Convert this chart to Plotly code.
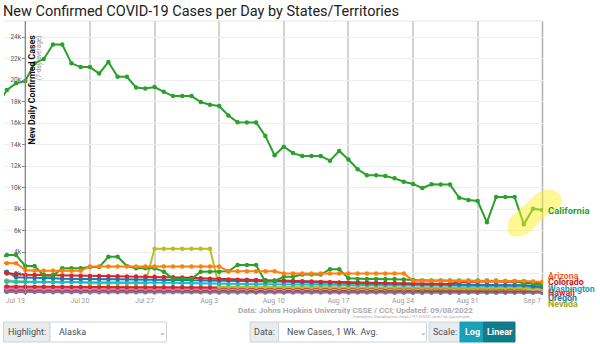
import plotly.graph_objects as go
import pandas as pd

dates = pd.date_range("2022-07-10", "2022-09-07", freq="D")

# values in cases per day (7-day avg) (thousands)
california = [17.6, 19.07, 19.69, 19.9, 21.55, 21.95, 23.3, 23.3, 21.55, 21.2, 21.2, 20.6, 21.67, 20.3, 20.3,
              19.3, 19.2, 19.35, 18.9, 18.5, 18.5, 18.5, 17.95, 17.7, 17.58, 16.7, 16.07, 16.05, 16.05, 14.8,
              13.0, 13.8, 13.2, 12.93, 12.93, 12.93, 12.5, 13.4, 12.6, 11.7, 11.15, 11.15, 11.07, 10.85, 10.54,
              10.33, 9.95, 10.3, 10.27, 10.27, 9.05, 8.84, 8.74, 6.76, 9.12, 9.12, 9.12, 6.57, 8.03, 7.9]
green2 = [3.4, 3.72, 3.72, 2.7, 2.7, 1.8, 1.8, 2.48, 2.48, 2.48, 2.6, 2.6, 3.56, 3.56, 2.7,
          2.5, 2.5, 2.5, 2.17, 1.5, 1.5, 1.5, 2.17, 2.17, 2.17, 2.2, 2.79, 2.79, 2.79, 1.24,
          1.3, 1.7, 1.7, 1.9, 1.9, 1.9, 2.4, 2.4, 1.55, 1.5, 1.5, 1.5, 1.5, 1.5, 1.45,
          1.4, 1.35, 1.35, 1.35, 1.35, 1.35, 1.35, 1.35, 1.35, 1.35, 1.3, 1.3, 1.1, 1.1, 0.93]
arizona = [3.0, 2.95, 2.95, 2.33, 2.26, 2.26, 2.26, 2.26, 2.26, 2.26, 2.66, 2.66, 2.66, 2.66, 2.66,
           2.66, 2.66, 2.66, 2.66, 2.66, 2.66, 2.66, 2.66, 2.66, 2.66, 2.2, 2.2, 2.2, 2.2, 2.2,
           2.2, 2.0, 2.0, 2.0, 2.0, 2.0, 2.0, 2.0, 2.0, 2.0, 2.0, 2.0, 2.0, 2.0, 2.0,
           1.33, 1.33, 1.33, 1.33, 1.33, 1.3, 1.3, 1.3, 1.3, 1.3, 1.3, 1.3, 1.3, 1.25, 1.2]
colorado = [2.1, 2.0, 1.95, 1.88, 1.86, 1.85, 1.83, 1.82, 1.8, 1.79, 1.77, 1.76, 1.75, 1.74, 1.73,
            1.72, 1.71, 1.7, 1.68, 1.66, 1.63, 1.6, 1.56, 1.52, 1.48, 1.45, 1.43, 1.41, 1.39, 1.37,
            1.35, 1.33, 1.3, 1.27, 1.25, 1.22, 1.18, 1.16, 1.15, 1.14, 1.13, 1.12, 1.12, 1.1, 1.1,
            1.08, 1.05, 1.03, 1.02, 1.02, 1.2, 1.24, 1.25, 1.25, 1.25, 1.25, 1.25, 1.25, 1.22, 1.1]
oregon = [2.3, 2.17, 1.64, 1.6, 1.58, 1.55, 1.55, 1.52, 1.5, 1.5, 1.48, 1.48, 1.47, 1.47, 1.46,
          1.46, 1.45, 1.45, 1.44, 1.43, 1.42, 1.41, 1.4, 1.38, 1.36, 1.34, 1.33, 1.33, 1.33, 1.32,
          1.3, 1.25, 1.22, 1.2, 1.18, 1.16, 1.14, 1.12, 1.1, 1.09, 1.08, 1.08, 1.07, 1.06, 1.05,
          1.02, 1.0, 1.0, 0.99, 0.98, 0.97, 0.97, 0.96, 0.95, 0.95, 0.94, 0.93, 0.9, 0.8, 0.75]
washington = [1.3, 1.24, 1.22, 1.2, 1.2, 1.2, 1.19, 1.19, 1.18, 1.18, 1.18, 1.17, 1.17, 1.16, 1.16,
              1.15, 1.15, 1.15, 1.14, 1.13, 1.12, 1.1, 1.08, 1.05, 1.02, 1.0, 1.0, 1.0, 0.99, 0.99,
              0.98, 0.98, 0.97, 0.97, 0.96, 0.96, 0.95, 0.95, 0.94, 0.94, 0.93, 0.93, 0.92, 0.92, 0.91,
              0.9, 0.88, 0.87, 0.86, 0.86, 0.86, 0.85, 0.85, 0.85, 0.85, 0.85, 0.85, 0.85, 0.9, 0.95]
nevada = [1.4, 1.35, 1.25, 1.25, 1.24, 1.24, 1.23, 1.23, 1.22, 1.2, 1.1, 1.1, 1.1, 1.1, 1.1,
          1.1, 1.09, 4.3, 4.3, 4.3, 4.3, 4.3, 4.3, 4.3, 0.77, 0.76, 0.76, 0.75, 0.75, 0.75,
          0.75, 0.74, 0.74, 0.74, 0.73, 0.73, 0.73, 0.72, 0.72, 0.72, 0.71, 0.71, 0.71, 0.7, 0.7,
          0.7, 0.7, 0.69, 0.69, 0.69, 0.68, 0.68, 0.68, 0.67, 0.67, 0.66, 0.66, 0.65, 0.62, 0.6]
hawaii = [0.8, 0.78, 0.77, 0.77, 0.76, 0.76, 0.76, 0.75, 0.75, 0.75, 0.74, 0.74, 0.74, 0.73, 0.73,
          0.73, 0.72, 0.72, 0.72, 0.71, 0.71, 0.7, 0.7, 0.7, 0.69, 0.69, 0.69, 0.68, 0.68, 0.68,
          0.67, 0.67, 0.67, 0.66, 0.66, 0.66, 0.65, 0.65, 0.65, 0.64, 0.64, 0.64, 0.63, 0.63, 0.63,
          0.62, 0.62, 0.62, 0.61, 0.61, 0.61, 0.6, 0.6, 0.6, 0.6, 0.6, 0.6, 0.6, 0.7, 0.85]
utah = [0.62, 0.6, 0.6, 0.6, 0.6, 0.59, 0.59, 0.59, 0.59, 0.58, 0.58, 0.58, 0.58, 0.57, 0.57,
        0.57, 0.57, 0.56, 0.56, 0.56, 0.56, 0.55, 0.55, 0.55, 0.55, 0.55, 0.55, 0.54, 0.54, 0.54,
        0.54, 0.54, 0.54, 0.53, 0.53, 0.53, 0.53, 0.53, 0.53, 0.53, 0.53, 0.53, 0.53, 0.53, 0.53,
        0.53, 0.55, 0.58, 0.6, 0.63, 0.66, 0.7, 0.75, 0.77, 0.77, 0.77, 0.77, 0.77, 0.7, 0.55]
newmexico = [0.72, 0.7, 0.7, 0.7, 0.7, 0.69, 0.69, 0.69, 0.69, 0.69, 0.68, 0.68, 0.68, 0.68, 0.68,
             0.68, 0.68, 0.7, 0.72, 0.74, 0.75, 0.75, 0.75, 0.75, 0.75, 0.75, 0.75, 0.75, 0.74, 0.74,
             0.73, 0.72, 0.71, 0.7, 0.69, 0.68, 0.67, 0.66, 0.65, 0.64, 0.63, 0.62, 0.61, 0.6, 0.6,
             0.6, 0.6, 0.6, 0.59, 0.59, 0.59, 0.58, 0.58, 0.58, 0.58, 0.58, 0.57, 0.57, 0.55, 0.5]
idaho = [0.5, 0.48, 0.48, 0.47, 0.47, 0.47, 0.47, 0.46, 0.46, 0.46, 0.46, 0.45, 0.45, 0.45, 0.45,
         0.45, 0.45, 0.44, 0.44, 0.44, 0.44, 0.44, 0.43, 0.43, 0.43, 0.43, 0.43, 0.42, 0.42, 0.42,
         0.42, 0.42, 0.41, 0.41, 0.41, 0.41, 0.4, 0.4, 0.4, 0.4, 0.4, 0.39, 0.39, 0.39, 0.39,
         0.38, 0.38, 0.38, 0.38, 0.37, 0.37, 0.37, 0.37, 0.36, 0.36, 0.36, 0.36, 0.35, 0.35, 0.34]
montana = [0.38, 0.37, 0.37, 0.37, 0.36, 0.36, 0.36, 0.36, 0.35, 0.35, 0.35, 0.35, 0.35, 0.34, 0.34,
           0.34, 0.34, 0.34, 0.33, 0.33, 0.33, 0.33, 0.33, 0.33, 0.32, 0.32, 0.32, 0.32, 0.32, 0.31,
           0.31, 0.31, 0.31, 0.31, 0.31, 0.3, 0.3, 0.3, 0.3, 0.3, 0.3, 0.3, 0.29, 0.29, 0.29,
           0.29, 0.29, 0.29, 0.29, 0.28, 0.28, 0.28, 0.28, 0.28, 0.28, 0.28, 0.27, 0.27, 0.27, 0.26]
wyoming = [0.28, 0.27, 0.27, 0.27, 0.27, 0.27, 0.26, 0.26, 0.26, 0.26, 0.26, 0.26, 0.26, 0.26, 0.25,
           0.25, 0.25, 0.25, 0.25, 0.25, 0.25, 0.25, 0.25, 0.24, 0.24, 0.24, 0.24, 0.24, 0.24, 0.24,
           0.24, 0.24, 0.24, 0.23, 0.23, 0.23, 0.23, 0.23, 0.23, 0.23, 0.23, 0.23, 0.23, 0.22, 0.22,
           0.22, 0.22, 0.22, 0.22, 0.22, 0.22, 0.22, 0.22, 0.22, 0.21, 0.21, 0.21, 0.21, 0.21, 0.2]

# (name, values, colour) drawn back to front
series = [
    ("Wyoming", wyoming, "#9467bd"),
    ("Montana", montana, "#7f7f7f"),
    ("Idaho", idaho, "#8c564b"),
    ("New Mexico", newmexico, "#ff9896"),
    ("Utah", utah, "#e377c2"),
    ("Hawaii", hawaii, "#d62728"),
    ("Nevada", nevada, "#bcbd22"),
    ("Washington", washington, "#17becf"),
    ("Oregon", oregon, "#1f77b4"),
    ("Colorado", colorado, "#d62728"),
    ("Alaska", green2, "#2ca02c"),
    ("Arizona", arizona, "#ff7f0e"),
    ("California", california, "#2ca02c"),
]

# right-hand end labels: (text, colour, label pixel row in the reference)
end_labels = [
    ("California", "#2ca02c", 210),
    ("Arizona", "#f0641e", 275.5),
    ("Colorado", "#c8161d", 282),
    ("Washington", "#17a2b8", 288.5),
    ("Hawaii", "#d62728", 293),
    ("Oregon", "#1f77b4", 297.5),
    ("Nevada", "#a8a81c", 303.5),
]

ytick_vals = [2, 4, 6, 8, 10, 12, 14, 16, 18, 20, 22, 24]

fig = go.Figure()
for name, vals, col in series:
    fig.add_trace(go.Scatter(
        x=dates, y=[v * 1000 for v in vals], name=name, mode="lines+markers",
        line=dict(color=col, width=2), marker=dict(color=col, size=4.5),
        hovertemplate=name + ": %{y:,.0f}<extra></extra>"))

L, R, T, B = 4, 543, 21, 295
def px(x):
    return (x - L) / (R - L)
def py(y):
    return (B - y) / (B - T)

font = "Roboto, Open Sans, sans-serif"
ann = []
for text, col, yp in end_labels:
    ann.append(dict(x=px(546), y=py(yp), xref="paper", yref="paper", text="<b>" + text + "</b>",
                    showarrow=False, xanchor="left", yanchor="middle",
                    font=dict(size=8.8 if text != "California" else 9.5, color=col, family=font)))

# axis titles
ann.append(dict(x=px(31.5), y=py(33), xref="paper", yref="paper", text="<b>New Daily Confirmed Cases</b>",
                textangle=-90, showarrow=False, xanchor="center", yanchor="top",
                font=dict(size=8.8, color="#111", family=font)))
ann.append(dict(x=px(39.5), y=py(33), xref="paper", yref="paper", text="(7-day average)",
                textangle=-90, showarrow=False, xanchor="center", yanchor="top",
                font=dict(size=6.5, color="#999", family=font)))
# source
ann.append(dict(x=px(475), y=py(310), xref="paper", yref="paper",
                text="<b>Data: Johns Hopkins University CSSE / CCI; Updated: 09/08/2022</b>",
                showarrow=False, xanchor="right", yanchor="middle", font=dict(size=8, color="#aaa", family=font)))
ann.append(dict(x=px(474), y=py(316.5), xref="paper", yref="paper",
                text="Interactive Visualization: https://91-DIVOC.com/ by @profwade_",
                showarrow=False, xanchor="right", yanchor="middle", font=dict(size=4.2, color="#aaa", family=font)))

shapes = []
# highlight blob around California's last points
blob = (f"M {px(508)},{py(228)} C {px(505)},{py(238)} {px(522)},{py(240)} {px(532)},{py(230)} "
        f"L {px(547)},{py(214)} C {px(560)},{py(212)} {px(568)},{py(198)} {px(555)},{py(191)} "
        f"C {px(545)},{py(186)} {px(535)},{py(194)} {px(528)},{py(202)} "
        f"L {px(512)},{py(216)} C {px(508)},{py(220)} {px(508)},{py(224)} {px(508)},{py(228)} Z")
shapes.append(dict(type="path", path=blob, xref="paper", yref="paper",
                   fillcolor="rgba(255,240,40,0.5)", line=dict(width=0), layer="above"))
# right edge line
shapes.append(dict(type="line", xref="paper", yref="paper", x0=px(542.5), x1=px(542.5), y0=0, y1=1,
                   line=dict(color="#b0b0b0", width=1.5), layer="below"))
shapes.append(dict(type="line", xref="paper", yref="paper", x0=0, x1=1, y0=1, y1=1,
                   line=dict(color="#e6e6e6", width=1), layer="below"))

# controls
def rect(x0, x1, fill, line="#ced4da"):
    shapes.append(dict(type="rect", xref="paper", yref="paper", x0=px(x0), x1=px(x1), y0=py(342), y1=py(322),
                       fillcolor=fill, line=dict(color=line, width=1), layer="above"))
def label(x, text, col="#495057", size=9, anchor="left", bold=False):
    t = "<b>" + text + "</b>" if bold else text
    ann.append(dict(x=px(x), y=py(332), xref="paper", yref="paper", text=t, showarrow=False,
                    xanchor=anchor, yanchor="middle", font=dict(size=size, color=col, family=font)))

rect(3.5, 50, "#e9ecef"); rect(50, 166.5, "#ffffff")
label(27, "Highlight:", anchor="center"); label(57, "Alaska"); label(162, "⌄", "#999", 8, "center")
rect(250, 278.5, "#e9ecef"); rect(278.5, 426.5, "#ffffff")
label(264, "Data:", anchor="center"); label(285, "New Cases, 1 Wk. Avg."); label(423, "⌄", "#999", 8, "center")
rect(429, 460, "#e9ecef")
label(445, "Scale:", anchor="center")
rect(460, 483.5, "#17a2b8", "#17a2b8"); rect(483.5, 515, "#117a8b", "#117a8b")
label(472, "Log", "#ffffff", 9, "center", True); label(499.5, "Linear", "#ffffff", 9, "center", True)

fig.update_layout(
    width=600, height=344, margin=dict(l=L, r=600 - R, t=T, b=344 - B),
    paper_bgcolor="white", plot_bgcolor="white", showlegend=False,
    title=dict(text="New Confirmed COVID-19 Cases per Day by States/Territories", x=3 / 600, xanchor="left",
               xref="container", yref="container", y=1 - 10.5 / 344, yanchor="middle",
               font=dict(size=14.5, color="#222", family=font)),
    xaxis=dict(type="date", range=["2022-07-10 16:37", "2022-09-07 01:49"], tick0="2022-07-13",
               dtick=7 * 86400000, tickformat="%b %-d", ticklabelshift=-10, showgrid=True,
               gridcolor="#d4d4d4", gridwidth=1.5, ticks="", showline=False, zeroline=False,
               tickfont=dict(size=7, color="#999", family=font)),
    yaxis=dict(range=[0, (B - T) / 10.75 * 1000], anchor="free", position=px(25.3), tickvals=[v * 1000 for v in ytick_vals],
               ticktext=[f"{v}k" for v in ytick_vals], showgrid=True, gridcolor="#eceef4", gridwidth=1,
               showline=True, linecolor="#888", linewidth=1, ticks="outside", ticklen=3, tickcolor="#888",
               zeroline=False, tickfont=dict(size=6.5, color="#555", family=font)),
    annotations=ann, shapes=shapes,
)
fig.write_html("out.html")
